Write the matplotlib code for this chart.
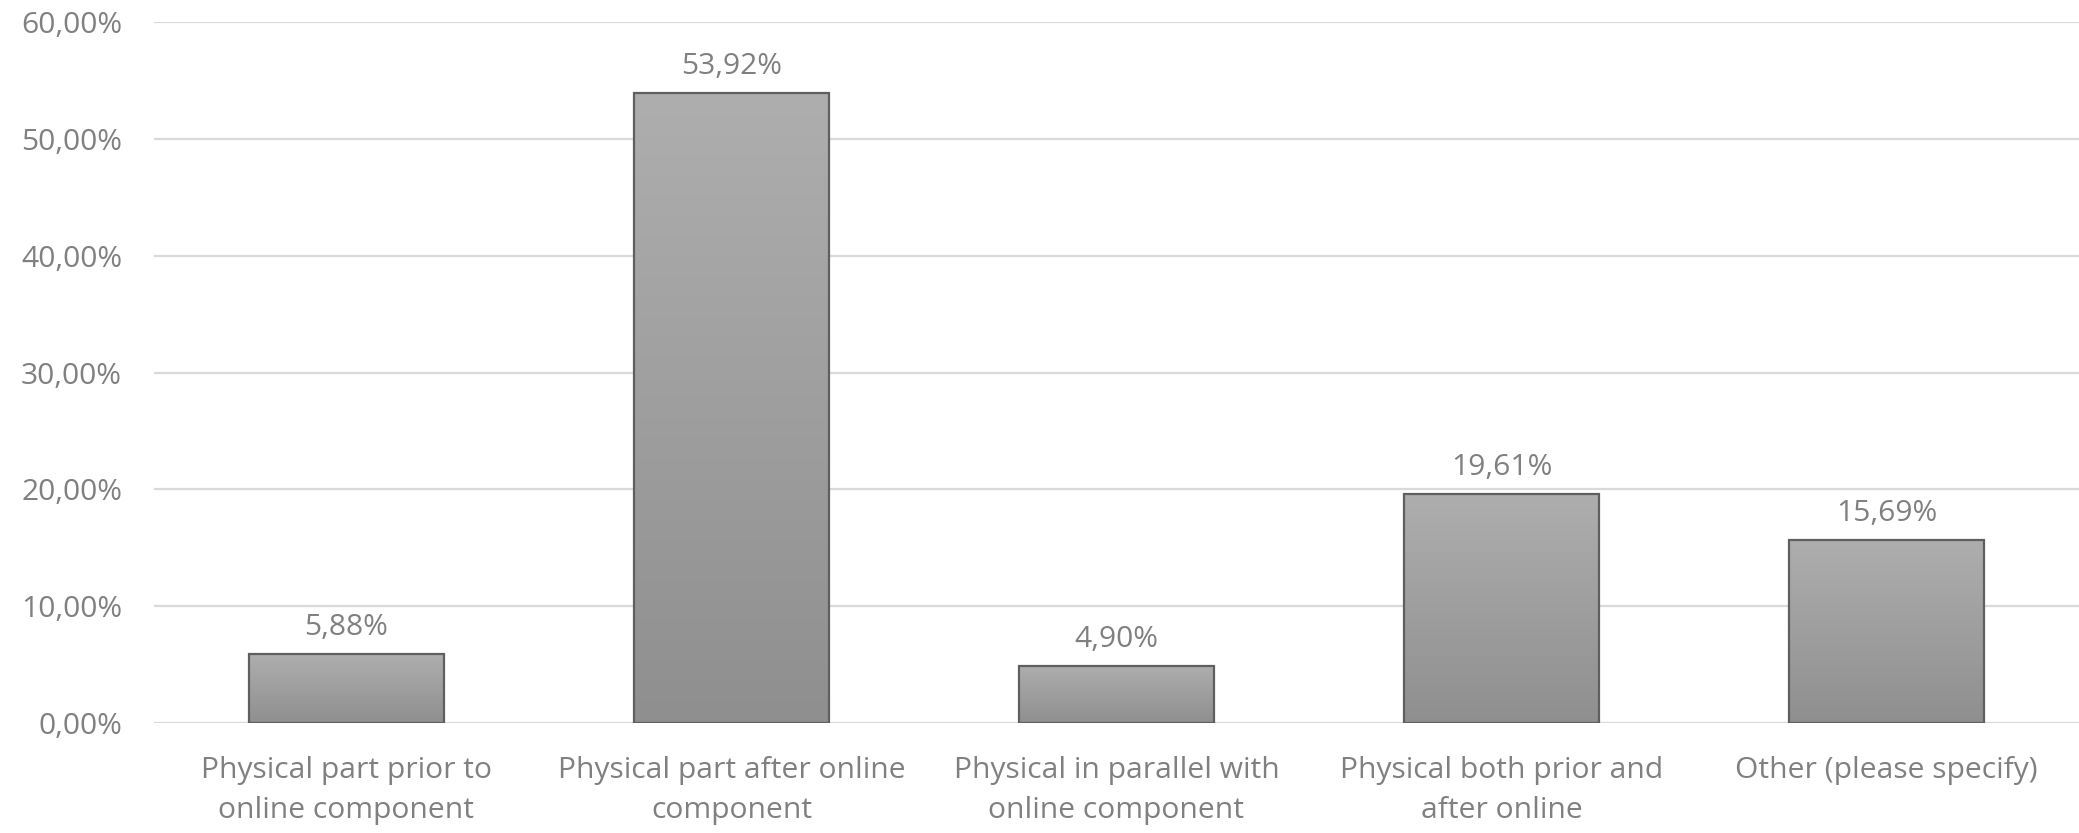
import numpy as np
import matplotlib
matplotlib.use('Agg')
import matplotlib.pyplot as plt
from matplotlib.ticker import FuncFormatter

plt.rcParams['font.family'] = ['Open Sans', 'DejaVu Sans']

categories = ['Physical part prior to\nonline component',
              'Physical part after online\ncomponent',
              'Physical in parallel with\nonline component',
              'Physical both prior and\nafter online',
              'Other (please specify)']
values = [5.88, 53.92, 4.90, 19.61, 15.69]
yticks = [0, 10, 20, 30, 40, 50, 60]

txt = '#808080'
fs = 21.6

fig = plt.figure(figsize=(20.79, 8.33), dpi=100)
ax = fig.add_axes([154/2079, 1-723/833, 1-154/2079, (723-22)/833])

x = np.arange(len(values))
width = 0.505
bars = ax.bar(x, values, width=width, color='none', edgecolor='#5f5f5f',
              linewidth=1.6, zorder=3)

# vertical gradient inside each bar
grad = np.linspace(0, 1, 256).reshape(-1, 1)
cmap = matplotlib.colors.LinearSegmentedColormap.from_list('g', ['#8f8f8f', '#aeaeae'])
for b in bars:
    x0, y0 = b.get_x(), b.get_y()
    w, h = b.get_width(), b.get_height()
    im = ax.imshow(grad, cmap=cmap, aspect='auto', origin='lower',
                   extent=[x0, x0 + w, y0, y0 + h], zorder=2)
    im.set_clip_path(b)

for xi, v in zip(x, values):
    ax.annotate(f'{v:.2f}%'.replace('.', ','), (xi, v), xytext=(0, 8.5),
                textcoords='offset points', ha='center', va='bottom',
                fontsize=fs, color=txt)

ax.set_xlim(-0.5, len(values) - 0.5)
ax.set_ylim(0, 60)
ax.set_yticks(yticks)
ax.yaxis.set_major_formatter(FuncFormatter(lambda v, p: f'{v:.2f}%'.replace('.', ',')))
ax.set_xticks(x)
ax.set_xticklabels(categories, linespacing=1.5)
ax.tick_params(axis='y', length=0, pad=23, labelsize=fs, labelcolor=txt)
ax.tick_params(axis='x', length=0, pad=24, labelsize=fs, labelcolor=txt)
ax.grid(axis='y', color='#d9d9d9', linewidth=1.6, zorder=0)
for s in ax.spines.values():
    s.set_visible(False)

fig.savefig('out.png', dpi=100)
